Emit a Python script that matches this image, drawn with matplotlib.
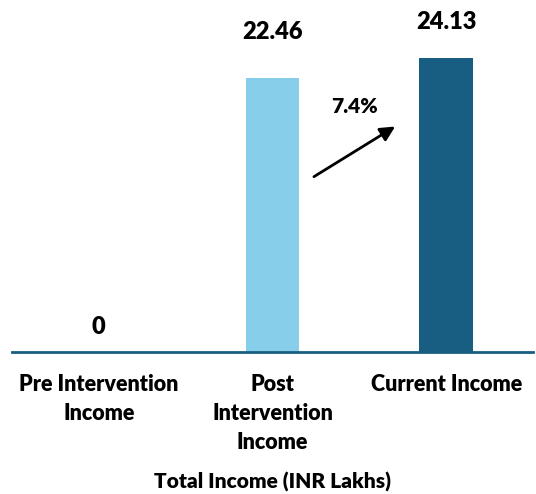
import matplotlib
matplotlib.use('Agg')
import matplotlib.pyplot as plt

categories = ['Pre Intervention\nIncome', 'Post\nIntervention\nIncome', 'Current Income']
income = [0, 22.46, 24.13]
bar_colors = ['#87CEEB', '#87CEEB', '#175E82']
label_offsets = [14, 35, 25]  # px gap between bar top and its value label

plt.rcParams['font.family'] = ['Lato', 'DejaVu Sans']
W = 'heavy'

fig = plt.figure(figsize=(5.36, 4.94), dpi=100)
ax = fig.add_axes([12 / 536, 142 / 494, 521 / 536, 352 / 494])

x = range(len(categories))
ax.bar(x, income, width=0.31, color=bar_colors)
ax.set_xlim(-0.5, 2.5)
ax.set_ylim(0, 28.85)

for xi, v, off in zip(x, income, label_offsets):
    ax.annotate(f'{v:g}' if v == 0 else f'{v:.2f}', (xi, v), xytext=(0, off),
                textcoords='offset pixels', ha='center', va='bottom',
                fontsize=17, fontweight=W)

# growth from post intervention to current
growth = (income[2] - income[1]) / income[1] * 100
ax.annotate('', xy=(1.72, 18.6), xytext=(1.225, 14.25),
            arrowprops=dict(arrowstyle='-|>', color='black', lw=2,
                            mutation_scale=22))
ax.text(1.475, 20.1, f'{growth:.1f}%', ha='center', va='center',
        fontsize=15, fontweight=W)

for s in ['top', 'right', 'left']:
    ax.spines[s].set_visible(False)
ax.spines['bottom'].set_color('#175E82')
ax.spines['bottom'].set_linewidth(2)
ax.set_yticks([])
ax.set_xticks(list(x))
ax.set_xticklabels(categories, fontsize=15.5, fontweight=W, linespacing=1.45)
ax.tick_params(axis='x', length=0, pad=16)
ax.set_xlabel('Total Income (INR Lakhs)', fontsize=15, fontweight=W, labelpad=14)

fig.savefig('out.png', dpi=100)
